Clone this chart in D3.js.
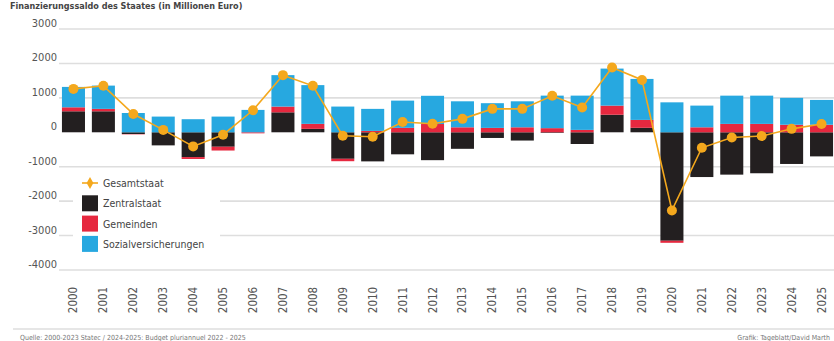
<!DOCTYPE html>
<html><head><meta charset="utf-8">
<script src="https://cdn.jsdelivr.net/npm/d3@7"></script>
<style>
html,body{margin:0;padding:0;background:#fff;}
svg{display:block;font-family:"Liberation Sans Narrow","DejaVu Sans Condensed","Roboto",sans-serif;}
</style></head>
<body><svg id="c" width="834" height="341"></svg>
<script>
const years = ["2000","2001","2002","2003","2004","2005","2006","2007","2008","2009","2010","2011","2012","2013","2014","2015","2016","2017","2018","2019","2020","2021","2022","2023","2024","2025"];
const zentralstaat = [610,610,-50,-380,-720,-420,0,580,100,-770,-845,-640,-810,-480,-165,-240,-20,-340,510,130,-3150,-1300,-1230,-1190,-920,-700];
const gemeinden = [116,70,-10,0,-55,-110,-30,167,145,-70,40,130,240,145,128,145,120,70,265,230,-60,145,244,244,220,220];
const sozialversicherungen = [592,676,560,456,380,456,650,913,1125,747,640,790,820,755,717,755,945,995,1075,1190,870,630,820,820,780,720];
const gesamtstaat = [1260,1350,530,70,-410,-70,640,1660,1350,-100,-130,300,250,390,680,680,1060,720,1880,1520,-2270,-450,-150,-110,100,240];
const yTicks = [3000,2000,1000,0,-1000,-2000,-3000,-4000];
const seriesNames = ["Zentralstaat","Gemeinden","Sozialversicherungen"];
const legendNames = ["Gesamtstaat","Zentralstaat","Gemeinden","Sozialversicherungen"];
const titleText = "Finanzierungssaldo des Staates (in Millionen Euro)";
const sourceText = "Quelle: 2000-2023 Statec / 2024-2025: Budget pluriannuel 2022 - 2025";
const creditText = "Grafik: Tageblatt/David Marth";

const colors = {Zentralstaat:"#231f20", Gemeinden:"#e6283f", Sozialversicherungen:"#27a8e0", Gesamtstaat:"#f4a81d"};

const svg = d3.select("#c");
const x = d3.scaleBand().domain(years).range([58.5,836.5]).paddingInner(0.23).paddingOuter(0.115);
const y = d3.scaleLinear().domain([-4000,3000]).range([270,29]);

// title
svg.append("text").attr("x",10).attr("y",9).attr("font-size",9).attr("font-weight","bold").attr("fill","#444").text(titleText);

// gridlines
svg.append("g").selectAll("line").data(yTicks.filter(d=>d!==0)).join("line")
  .attr("x1",59).attr("x2",834).attr("y1",d=>y(d)).attr("y2",d=>y(d))
  .attr("stroke","#dedede").attr("stroke-width",1.6);

// y labels
svg.append("g").selectAll("text").data(yTicks).join("text")
  .attr("x",57).attr("y",d=>y(d)-2).attr("text-anchor","end")
  .attr("font-size",11).attr("fill","#555").text(d=>d);

// stacked bars
const table = years.map((yr,i)=>({year:yr, Zentralstaat:zentralstaat[i], Gemeinden:gemeinden[i], Sozialversicherungen:sozialversicherungen[i]}));
const stack = d3.stack().keys(seriesNames).offset(d3.stackOffsetDiverging)(table);
svg.append("g").selectAll("g").data(stack).join("g").attr("fill",d=>colors[d.key])
  .selectAll("rect").data(d=>d).join("rect")
  .attr("x",d=>x(d.data.year)).attr("width",x.bandwidth())
  .attr("y",d=>y(Math.max(d[0],d[1]))).attr("height",d=>Math.abs(y(d[0])-y(d[1])));

// line
const line = d3.line().x((d,i)=>x(years[i])+x.bandwidth()/2).y(d=>y(d));
svg.append("path").datum(gesamtstaat).attr("d",line).attr("fill","none")
  .attr("stroke",colors.Gesamtstaat).attr("stroke-width",1.6);
svg.append("g").selectAll("circle").data(gesamtstaat).join("circle")
  .attr("cx",(d,i)=>x(years[i])+x.bandwidth()/2).attr("cy",d=>y(d)).attr("r",5)
  .attr("fill",colors.Gesamtstaat);

// legend
const lg = svg.append("g");
lg.append("rect").attr("x",73).attr("y",172).attr("width",147).attr("height",90).attr("fill","#fff");
legendNames.forEach((n,i)=>{
  const cy = 183 + i*20.3;
  if(n==="Gesamtstaat"){
    lg.append("line").attr("x1",82).attr("x2",98).attr("y1",cy).attr("y2",cy).attr("stroke",colors[n]).attr("stroke-width",1.6);
    lg.append("path").attr("d",d3.symbol(d3.symbolDiamond,40)()).attr("transform",`translate(90,${cy})`).attr("fill",colors[n]);
  } else {
    lg.append("rect").attr("x",82).attr("y",cy-8).attr("width",16).attr("height",16).attr("fill",colors[n]);
  }
  lg.append("text").attr("x",103).attr("y",cy+4).attr("font-size",10.5).attr("fill","#444").text(n);
});

// x labels
svg.append("g").selectAll("text").data(years).join("text")
  .attr("transform",d=>`translate(${x(d)+x.bandwidth()/2+4},300) rotate(-90)`)
  .attr("text-anchor","middle").attr("font-size",11.5).attr("fill","#555").text(d=>d);

// footer
svg.append("line").attr("x1",13).attr("x2",834).attr("y1",329).attr("y2",329).attr("stroke","#dedede").attr("stroke-width",1.5);
svg.append("text").attr("x",20).attr("y",340).attr("font-size",7).attr("fill","#777").text(sourceText);
svg.append("text").attr("x",830).attr("y",340).attr("text-anchor","end").attr("font-size",7).attr("fill","#777").text(creditText);
</script></body></html>
